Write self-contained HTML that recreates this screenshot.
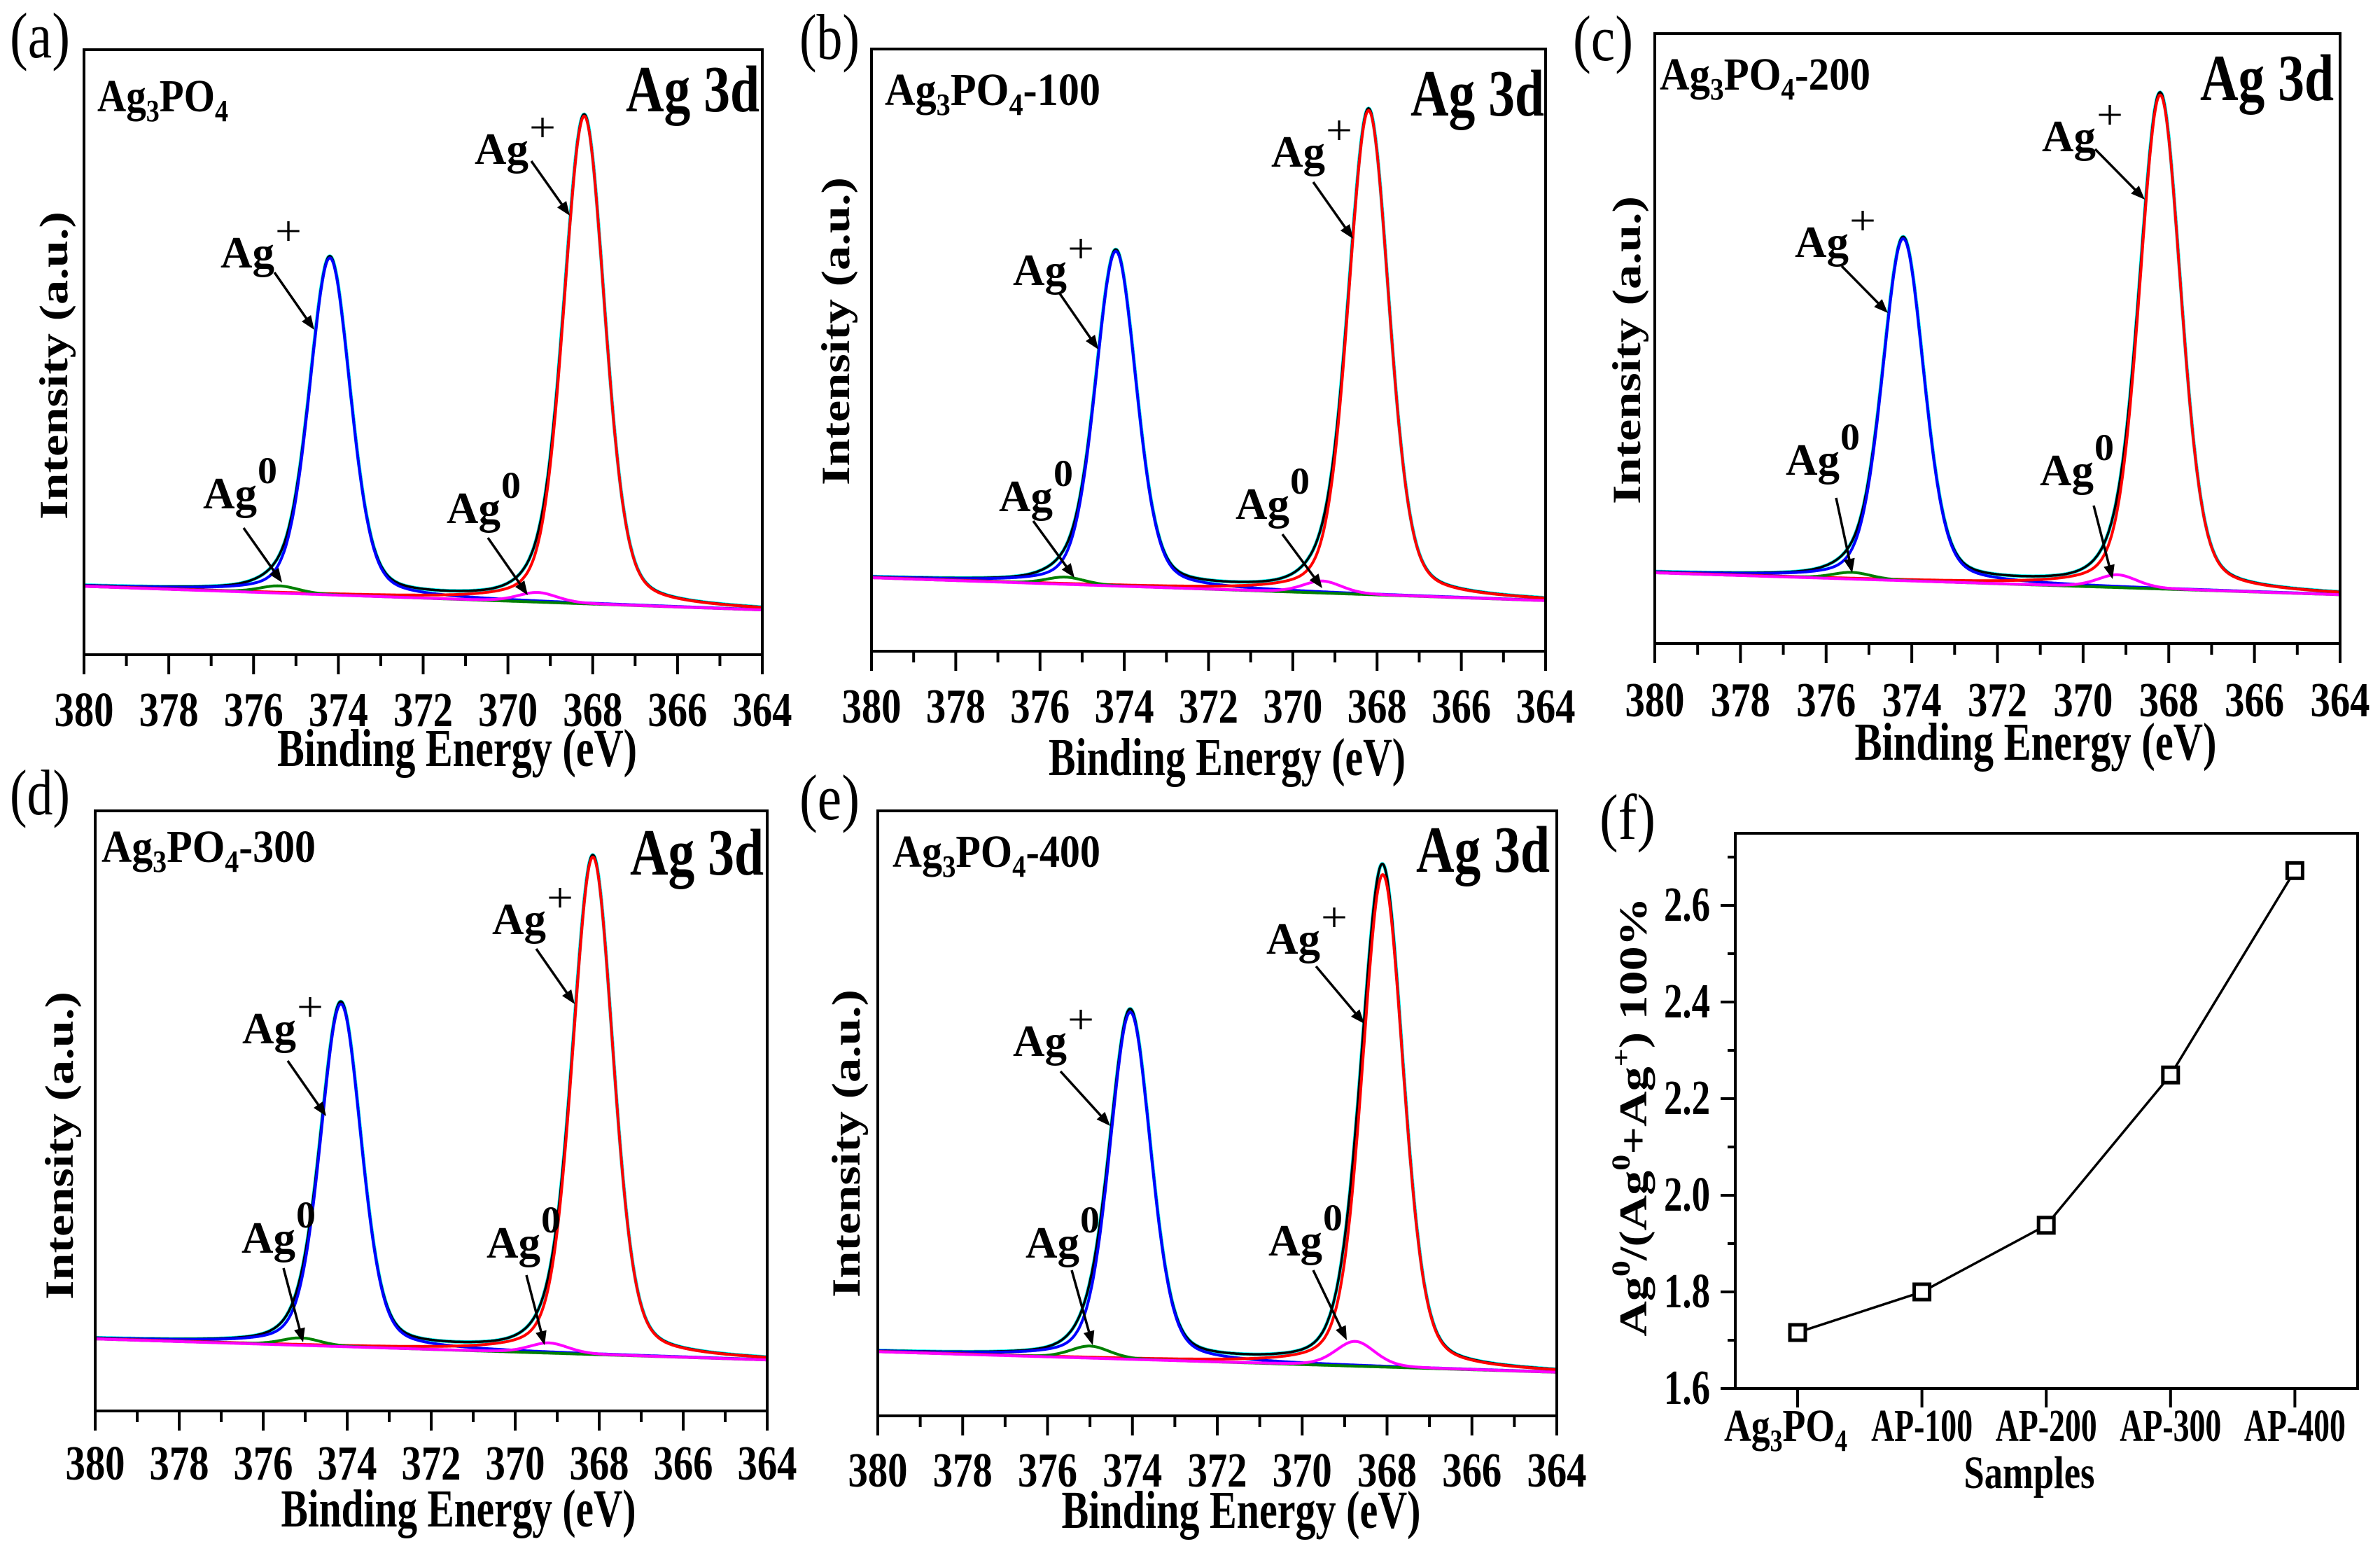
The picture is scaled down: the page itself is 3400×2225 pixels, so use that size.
<!DOCTYPE html>
<html><head><meta charset="utf-8"><title>Ag 3d XPS</title>
<style>html,body{margin:0;padding:0;background:#fff;}svg{display:block;}</style></head>
<body>
<svg id="fig" xmlns="http://www.w3.org/2000/svg" width="3400" height="2225" viewBox="0 0 3400 2225"></svg>
<script>
// ---------- data ----------
const energyTicks = [380,378,376,374,372,370,368,366,364];
const panelLetters = ['(a)','(b)','(c)','(d)','(e)'];
const panelSuffix = ['','-100','-200','-300','-400'];
const agPlus52Pos = [368.2,368.2,368.2,368.15,368.1];
const agPlus52Height = [0.806,0.804,0.81,0.829,0.814];
const agPlus32Pos = [374.2,374.2,374.2,374.15,374.05];
const agPlus32Height = [0.557,0.556,0.561,0.571,0.574];
const ag052Pos = [369.3,369.3,369.2,369.2,368.75];
const ag052Height = [0.016,0.02,0.021,0.017,0.041];
const ag032Pos = [375.4,375.4,375.4,375.1,375.0];
const ag032Height = [0.012,0.012,0.011,0.0125,0.02];
const bgLeft = [0.113,0.122,0.116,0.120,0.106];
const bgRight = [0.074,0.084,0.080,0.085,0.072];

const sampleNames = ['Ag3PO4','AP-100','AP-200','AP-300','AP-400'];
const ratioValues = [1.716,1.80,1.938,2.249,2.672];
const ratioTicks = [1.6,1.8,2.0,2.2,2.4,2.6];
const ratioTickLabels = ['1.6','1.8','2.0','2.2','2.4','2.6'];

// ---------- layout ----------
const NS='http://www.w3.org/2000/svg';
const svg=document.getElementById('fig');
const FONT='"Liberation Serif", "DejaVu Serif", serif';
function el(tag,attrs,parent){const e=document.createElementNS(NS,tag);for(const k in attrs)e.setAttribute(k,attrs[k]);(parent||svg).appendChild(e);return e;}
function txt(parent,x,y,s,size,anchor,len,weight){
  const t=el('text',{x:x,y:y,'font-family':FONT,'font-size':size,'font-weight':weight||'bold','text-anchor':anchor||'start',fill:'#000'},parent);
  if(len){t.setAttribute('textLength',len);t.setAttribute('lengthAdjust','spacingAndGlyphs');}
  t.textContent=s;return t;
}
function arrow(parent,x1,y1,x2,y2){
  const g=el('g',{},parent);
  
  
  const dx=x2-x1,dy=y2-y1,L=Math.hypot(dx,dy),ux=dx/L,uy=dy/L;
  const hl=20,hw=8;
  el('line',{x1:x1,y1:y1,x2:x2-ux*hl*0.8,y2:y2-uy*hl*0.8,stroke:'#000','stroke-width':3.5},g);
  el('polygon',{points:`${x2},${y2} ${x2-ux*hl-uy*hw},${y2-uy*hl+ux*hw} ${x2-ux*hl+uy*hw},${y2-uy*hl-ux*hw}`,fill:'#000'},g);
}

const boxes=[[120,71,1089,935],[1245,70,2208,930],[2364,48,3343,919],[136,1158,1096,2015],[1254,1158,2224,2022]];
const tickBase=[1037,1032,1023,2113,2123];
const titlePos=[[653,1094,514],[1753,1107,510],[2908,1085,517],[655,2180,507],[1773,2182,513]];
const yTitlePos=[[96,522],[1213,473],[2343,500],[104,1636],[1228,1633]];
const sampleLabelPos=[[139,159,187],[1264,150,308],[2371,128,301],[145,1231,306],[1275,1238,297]];
const ag3dPos=[[1085,159],[2206,165],[3334,143],[1091,1249],[2214,1245]];
const letterPos=[[14,82],[1142,84],[2247,86],[14,1163],[1142,1170]];
const annots=[
 [['+',315,382,392,389,449,471],['+',678,234,759,230,814,308],['0',290,726,348,754,403,832],['0',638,747,697,768,754,850]],
 [['+',1447,407,1513,418,1569,499],['+',1816,238,1876,260,1933,341],['0',1427,730,1476,744,1535,825],['0',1765,741,1832,763,1889,840]],
 [['+',2564,367,2631,380,2697,447],['+',2917,216,2993,213,3064,285],['0',2551,678,2623,711,2646,818],['0',2914,693,2991,722,3018,827]],
 [['+',346,1490,411,1515,466,1594],['+',703,1334,766,1355,821,1434],['0',345,1789,405,1811,433,1917],['0',695,1796,752,1821,778,1921]],
 [['+',1447,1508,1515,1530,1586,1608],['+',1809,1362,1880,1380,1949,1462],['0',1465,1796,1531,1814,1561,1921],['0',1812,1793,1876,1814,1924,1914]]
];

function pv(E,c,h,w){const d=(E-c)/w;const G=Math.exp(-4*Math.LN2*d*d);const L=1/(1+4*d*d);return h*(0.72*G+0.28*L);}

for(let p=0;p<5;p++){
  const [x0,y0,x1,y1]=boxes[p];
  const g=el('g',{});
  
  
  const xs=E=>x0+(380-E)/16*(x1-x0);
  const ys=v=>y1-v*(y1-y0);
  const bg=E=>bgRight[p]+(bgLeft[p]-bgRight[p])*(E-364)/16;
  const comps={
    blue:E=>bg(E)+pv(E,agPlus32Pos[p],agPlus32Height[p],1.15),
    red:E=>bg(E)+pv(E,agPlus52Pos[p],agPlus52Height[p],1.15),
    green:E=>bg(E)+pv(E,ag032Pos[p],ag032Height[p],1.1),
    magenta:E=>bg(E)+pv(E,ag052Pos[p],ag052Height[p],1.1),
    env:E=>bg(E)+pv(E,agPlus32Pos[p],agPlus32Height[p],1.15)+pv(E,agPlus52Pos[p],agPlus52Height[p],1.15)+pv(E,ag032Pos[p],ag032Height[p],1.1)+pv(E,ag052Pos[p],ag052Height[p],1.1)
  };
  function curve(fn,color,w,name){
    let d='';
    for(let i=0;i<=800;i++){const E=380-i*0.02;d+=(i?'L':'M')+xs(E).toFixed(1)+','+ys(fn(E)).toFixed(1);}
    const path=el('path',{d:d,fill:'none',stroke:color,'stroke-width':w,'stroke-linejoin':'round'},g);
    
    
  }
  curve(comps.env,'#00ffff',5,'raw-data-curve');
  curve(comps.env,'#000000',3.5,'envelope-curve');
  curve(comps.blue,'#0000ff',4,'ag-plus-3d32-curve');
  curve(comps.red,'#ff0000',4,'ag-plus-3d52-curve');
  curve(comps.green,'#008000',4,'ag0-3d32-curve');
  curve(comps.magenta,'#ff00ff',4,'ag0-3d52-curve');
  const frame=el('rect',{x:x0,y:y0,width:x1-x0,height:y1-y0,fill:'none',stroke:'#000','stroke-width':4},g);
  
  
  for(let E=380;E>=364;E--){
    const major=(E%2===0);
    el('line',{x1:xs(E),y1:y1,x2:xs(E),y2:y1+(major?28:16),stroke:'#000','stroke-width':4},g);
  }
  energyTicks.forEach(E=>{
    const t=txt(g,xs(E),tickBase[p],String(E),70,'middle',85);
    
    
  });
  const tt=txt(g,titlePos[p][0],titlePos[p][1],'Binding Energy (eV)',76,'middle',titlePos[p][2]);
  
  
  const yt=el('text',{transform:`translate(${yTitlePos[p][0]},${yTitlePos[p][1]}) scale(0.8,1) rotate(-90)`,'font-family':FONT,'font-size':72,'font-weight':'bold','text-anchor':'middle',textLength:440,lengthAdjust:'spacingAndGlyphs'},g);
  yt.textContent='Intensity (a.u.)';
  
  
  const sl=el('text',{x:sampleLabelPos[p][0],y:sampleLabelPos[p][1],'font-family':FONT,'font-size':66,'font-weight':'bold',textLength:sampleLabelPos[p][2],lengthAdjust:'spacingAndGlyphs'},g);
  
  
  sl.innerHTML=`Ag<tspan font-size="44" dy="14">3</tspan><tspan dy="-14">PO</tspan><tspan font-size="44" dy="14">4</tspan><tspan dy="-14">${panelSuffix[p]||'\u200b'}</tspan>`;
  const a3=txt(g,ag3dPos[p][0],ag3dPos[p][1],'Ag 3d',94,'end',191);
  
  
  const lt=txt(svg,letterPos[p][0],letterPos[p][1],panelLetters[p],92,'start',86,'normal');
  
  
  annots[p].forEach(a=>{
    const t=txt(g,a[1],a[2],'Ag',64,'start',77);
    
    
    const plus=a[0]==='+';
    const s=txt(g,a[1]+78,a[2]-(plus?32:36),plus?'+':'0',plus?60:54,'start',plus?38:28,plus?'normal':'bold');
    
    
    arrow(g,a[3],a[4],a[5],a[6]);
  });
}

// ---------- panel f ----------
(function(){
  const x0=2479,y0=1190,x1=3368,y1=1983;
  const g=el('g',{});
  
  
  const ys=v=>y1-(v-1.6)/0.2*138;
  const xs=i=>2568+i*177.6;
  const frame=el('rect',{x:x0,y:y0,width:x1-x0,height:y1-y0,fill:'none',stroke:'#000','stroke-width':4},g);
  
  
  for(let k=0;k<12;k++){
    const v=1.6+k*0.1;if(ys(v)<y0)break;
    el('line',{x1:x0,y1:ys(v),x2:x0-(k%2===0?21:11),y2:ys(v),stroke:'#000','stroke-width':4},g);
  }
  ratioTicks.forEach((v,i)=>{
    const t=txt(g,2443,ys(v)+22,ratioTickLabels[i],70,'end',66);
    
    
  });
  sampleNames.forEach((s,i)=>{
    el('line',{x1:xs(i),y1:y1,x2:xs(i),y2:y1+27,stroke:'#000','stroke-width':4},g);
    let t;
    if(i===0){
      t=el('text',{x:2551,y:2058,'font-family':FONT,'font-size':66,'font-weight':'bold','text-anchor':'middle',textLength:176,lengthAdjust:'spacingAndGlyphs'},g);
      t.innerHTML='Ag<tspan font-size="44" dy="14">3</tspan><tspan dy="-14">PO</tspan><tspan font-size="44" dy="14">4</tspan>';
    } else {
      t=txt(g,xs(i),2058,s,66,'middle',145);
    }
    
    
  });
  const st=txt(g,2899,2125,'Samples',66,'middle',187);
  
  
  let d='';
  ratioValues.forEach((v,i)=>{d+=(i?'L':'M')+xs(i)+','+ys(v);});
  const line=el('path',{d:d,fill:'none',stroke:'#000','stroke-width':3.5},g);
  
  
  ratioValues.forEach((v,i)=>{
    const r=el('rect',{x:xs(i)-11,y:ys(v)-11,width:22,height:22,fill:'#fff',stroke:'#000','stroke-width':5},g);
    
    
  });
  const yt=el('text',{transform:'translate(2352,1595) scale(0.8,1) rotate(-90)','font-family':FONT,'font-size':70,'font-weight':'bold','text-anchor':'middle'},g);
  yt.innerHTML='Ag<tspan font-size="46" dy="-30">0</tspan><tspan dy="30">/(Ag</tspan><tspan font-size="46" dy="-30">0</tspan><tspan dy="30">+Ag</tspan><tspan font-size="46" dy="-30">+</tspan><tspan dy="30">) 100%</tspan>';
  
  
  const lt=txt(svg,2285,1198,'(f)',92,'start',80,'normal');
  
  
})();
</script>
</body></html>
